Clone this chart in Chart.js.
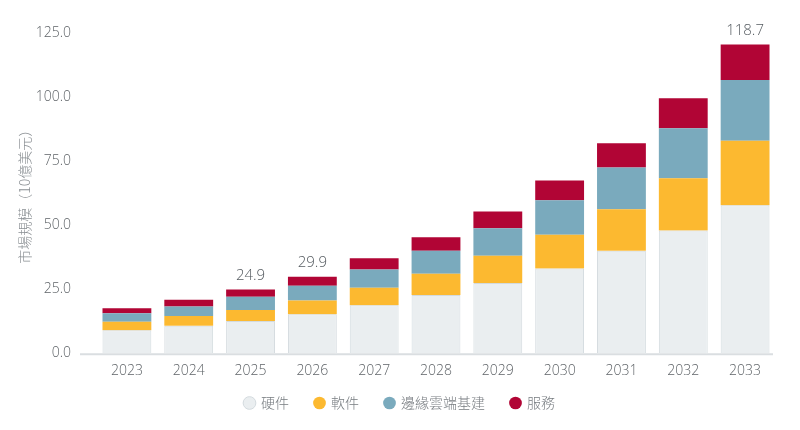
<!DOCTYPE html>
<html>
<head>
<meta charset="utf-8">
<script src="https://cdn.jsdelivr.net/npm/chart.js@4/dist/chart.umd.min.js"></script>
<style>
  html, body { margin: 0; padding: 0; background: #fff; }
  #wrap { width: 800px; height: 430px; position: relative; }
</style>
</head>
<body>
<div id="wrap"><canvas id="marketChart"></canvas></div>
<script>
// categories
const years = ['2023', '2024', '2025', '2026', '2027', '2028', '2029', '2030', '2031', '2032', '2033'];

// series values (10億美元)
const hardware = [9.0, 10.7, 12.6, 15.2, 18.7, 22.7, 27.4, 33.1, 40.0, 48.0, 57.8];
const software = [3.3, 3.8, 4.3, 5.4, 6.9, 8.4, 10.7, 13.2, 16.3, 20.4, 25.2];
const edgeCloud = [3.3, 3.8, 5.2, 5.8, 7.1, 8.9, 10.7, 13.5, 16.3, 19.5, 23.8];
const services = [2.0, 2.6, 2.8, 3.5, 4.4, 5.3, 6.6, 7.7, 9.5, 11.8, 13.9];

// totals printed above a few bars
const totalLabels = ['', '', '24.9', '29.9', '', '', '', '', '', '', '118.7'];

// y axis ticks
const yTicks = [0, 25, 50, 75, 100, 125];

const fontLatin = '"Open Sans", "Noto Sans CJK TC", sans-serif';
const fontCJK = '"Noto Sans CJK TC", "Open Sans", sans-serif';

// legend sits closer to the axis labels than Chart.js would put it
const LEGEND_LIFT = 18;
const legendTweak = {
  id: 'legendTweak',
  beforeLayout(chart) {
    const lg = chart.legend;
    if (lg && !lg._tweaked) {
      const fit = lg.fit;
      lg.fit = function () {
        fit.call(this);
        this.height = Math.max(0, this.height - LEGEND_LIFT);
      };
      lg._tweaked = true;
    }
  },
  afterLayout(chart) {
    const lg = chart.legend;
    if (!lg) return;
    lg.top -= LEGEND_LIFT;
    lg.height += LEGEND_LIFT;
    lg.left += 6;
    lg.right += 6;
  }
};

// light baseline that reaches a bit left of the first bar
const baseline = {
  id: 'baseline',
  beforeDatasetsDraw(chart) {
    const { ctx, chartArea, scales } = chart;
    const y = scales.y.getPixelForValue(0) + 1;
    ctx.save();
    ctx.strokeStyle = '#dadee1';
    ctx.lineWidth = 2;
    ctx.beginPath();
    ctx.moveTo(80, y);
    ctx.lineTo(chartArea.right - 3, y);
    ctx.stroke();
    ctx.restore();
  }
};

// total labels on top of stacks
const totals = {
  id: 'totals',
  afterDatasetsDraw(chart) {
    const { ctx, scales } = chart;
    ctx.save();
    ctx.font = '300 15px ' + fontLatin;
    ctx.fillStyle = '#555b60';
    ctx.textAlign = 'center';
    ctx.textBaseline = 'bottom';
    totalLabels.forEach((txt, i) => {
      if (!txt) return;
      const sum = hardware[i] + software[i] + edgeCloud[i] + services[i];
      const x = scales.x.getPixelForValue(i);
      const y = scales.y.getPixelForValue(sum);
      ctx.fillText(txt, x, y - 6);
    });
    ctx.restore();
  }
};

const mk = (label, data, color, border) => ({
  label: label,
  data: data,
  backgroundColor: color,
  borderColor: border || color,
  borderWidth: border ? 1 : 0,
  barPercentage: 0.79,
  categoryPercentage: 1.0,
  stack: 'all'
});

new Chart(document.getElementById('marketChart'), {
  type: 'bar',
  data: {
    labels: years,
    datasets: [
      mk('硬件', hardware, '#eaeef0', '#d3dade'),
      mk('軟件', software, '#fcb930'),
      mk('邊緣雲端基建', edgeCloud, '#7aaabd'),
      mk('服務', services, '#b10535')
    ]
  },
  options: {
    responsive: true,
    maintainAspectRatio: false,
    animation: false,
    layout: { padding: { left: 12, right: 24, top: 24, bottom: 10 } },
    plugins: {
      tooltip: { enabled: false },
      legend: {
        position: 'bottom',
        labels: {
          usePointStyle: true,
          pointStyle: 'circle',
          boxWidth: 9,
          boxHeight: 9,
          padding: 26,
          color: '#777c80',
          font: { family: fontCJK, size: 14, weight: '300' }
        }
      }
    },
    scales: {
      x: {
        stacked: true,
        grid: { display: false, drawTicks: false },
        border: { display: false },
        ticks: {
          color: '#5f6468',
          padding: 9,
          font: { family: fontLatin, size: 14, weight: '300' }
        }
      },
      y: {
        stacked: true,
        min: 0,
        max: 125,
        afterBuildTicks(axis) { axis.ticks = yTicks.map(v => ({ value: v })); },
        afterFit(axis) { axis.width = 84; },
        grid: { display: false, drawTicks: false },
        border: { display: false },
        ticks: {
          color: '#5f6468',
          padding: 25,
          font: { family: fontLatin, size: 14, weight: '300' },
          callback: v => Number(v).toFixed(1)
        },
        title: {
          display: true,
          text: '市場規模（10億美元）',
          color: '#8a8f93',
          padding: { bottom: 8 },
          font: { family: fontCJK, size: 14, weight: '300' }
        }
      }
    }
  },
  plugins: [legendTweak, baseline, totals]
});
</script>
</body>
</html>
